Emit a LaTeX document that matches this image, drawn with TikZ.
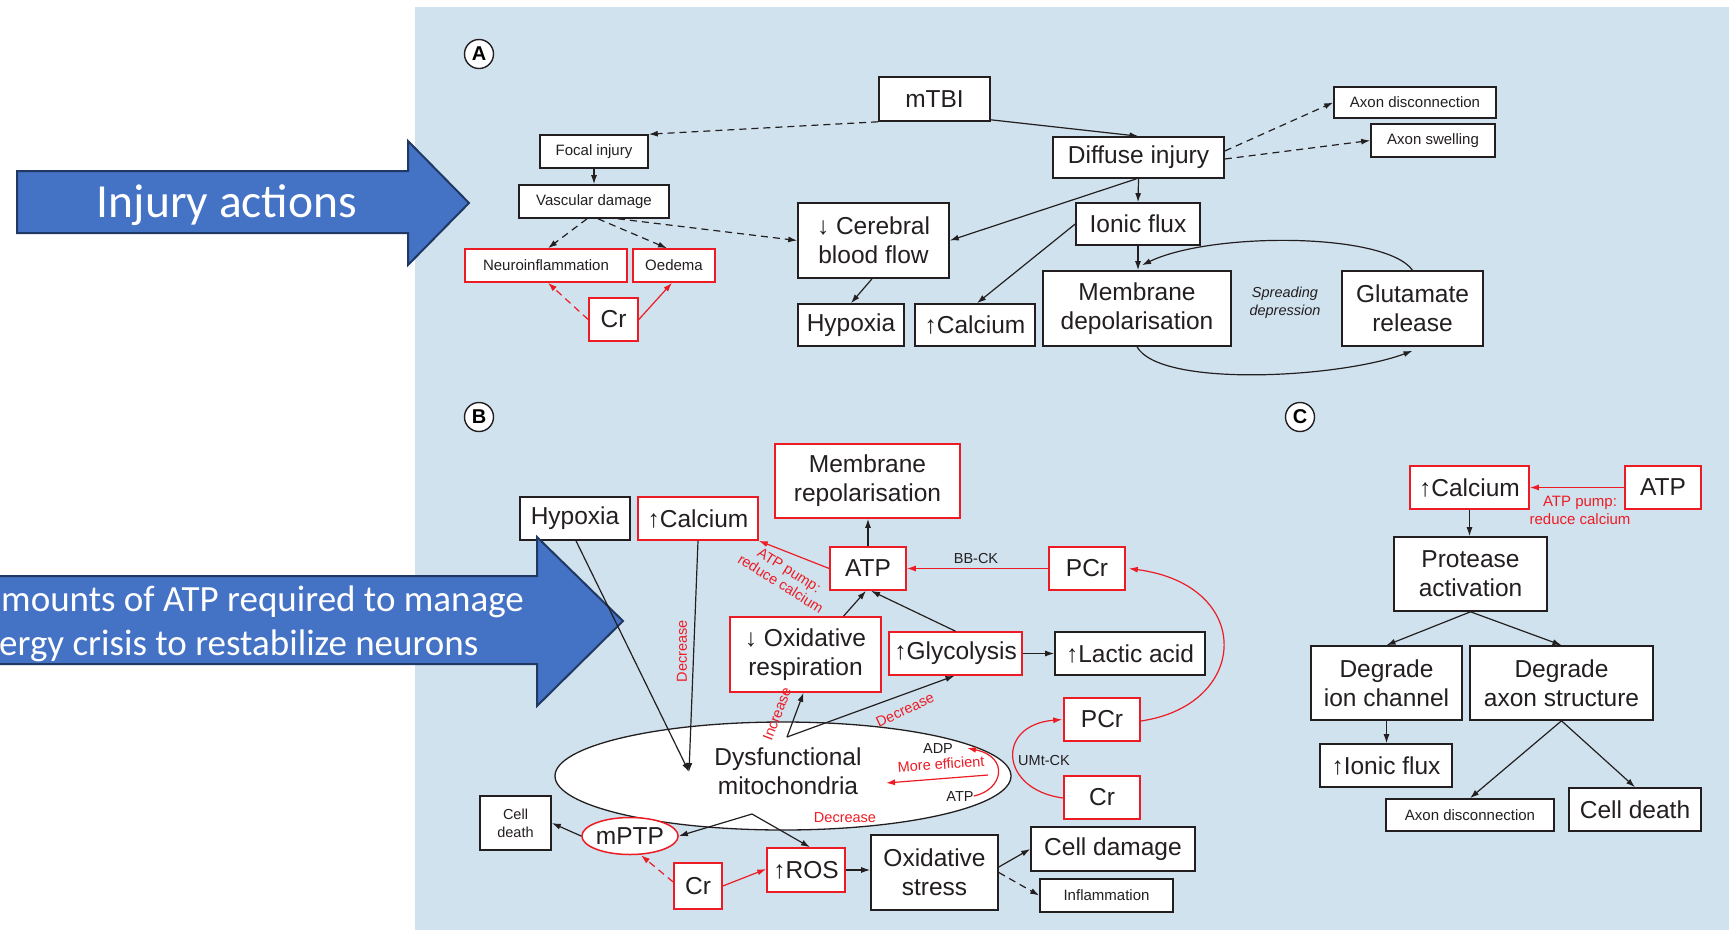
\documentclass[tikz,border=0pt]{standalone}
\usepackage{fontspec}
\setmainfont{Liberation Sans}
\newfontfamily\calib{Carlito}
\usetikzlibrary{arrows.meta,shapes.geometric,calc}
\definecolor{bgblue}{RGB}{208,226,238}
\definecolor{arrblue}{RGB}{68,114,196}
\definecolor{arrdark}{RGB}{32,56,100}
\definecolor{myred}{RGB}{237,28,36}
\definecolor{ink}{RGB}{35,31,32}
\begin{document}
\begin{tikzpicture}[x=1pt,y=-1pt,
  bx/.style={draw=ink, line width=1.6pt, fill=white, inner sep=0pt, align=center, text=ink},
  rbx/.style={bx, draw=myred},
  sz/.style n args={2}{minimum width=#1pt, minimum height=#2pt},
  big/.style={font=\fontsize{24.5}{29}\selectfont},
  sml/.style={font=\fontsize{15}{18}\selectfont},
  tny/.style={font=\fontsize{14.5}{18}\selectfont},
  lbl/.style={inner sep=0pt, align=center, text=ink, font=\fontsize{14.5}{18}\selectfont},
  rlbl/.style={lbl, text=myred},
  con/.style={draw=ink, line width=1.2pt, -{Latex[length=9pt,width=6pt]}},
  dcon/.style={con, dash pattern=on 7pt off 5pt},
  rcon/.style={con, draw=myred},
  rdcon/.style={rcon, dash pattern=on 7pt off 5pt},
  pcirc/.style={circle, draw=ink, line width=1.4pt, fill=white, minimum size=29pt, inner sep=0pt, font=\bfseries\fontsize{20}{20}\selectfont},
]
\useasboundingbox (0,0) rectangle (1729,930);
\clip (0,0) rectangle (1729,930);
\fill[bgblue] (415,7) rectangle (1729,930);

% ---------------- Panel A ----------------
\node[pcirc] (pA) at (479,54) {A};
\node[bx,big,sz={111}{44}] (mtbi) at (934.5,99) {mTBI};
\node[bx,sml,sz={108}{33}] (focal) at (594,151.5) {Focal injury};
\node[bx,sml,sz={150}{33}] (vasc) at (594,201.5) {Vascular damage};
\node[rbx,sml,sz={162}{33}] (neuro) at (546,265.5) {Neuroinflammation};
\node[rbx,sml,sz={82}{33}] (oedema) at (674,265.5) {Oedema};
\node[rbx,big,sz={49}{43}] (crA) at (613.5,319.5) {Cr};
\node[bx,big,sz={151}{75}] (cbf) at (873.5,240.5) {↓ Cerebral\\blood flow};
\node[bx,big,sz={106}{42}] (hypA) at (851,325) {Hypoxia};
\node[bx,big,sz={120}{42}] (calA) at (975,325) {↑Calcium};
\node[bx,big,sz={171}{41}] (diffuse) at (1138.5,157.5) {Diffuse injury};
\node[bx,sml,sz={162}{31}] (axdis) at (1415,102.5) {Axon disconnection};
\node[bx,sml,sz={124}{33}] (axsw) at (1433,140.5) {Axon swelling};
\node[bx,big,sz={124}{42}] (ionic) at (1138,224) {Ionic flux};
\node[bx,big,sz={188}{75}] (memdep) at (1137,308.5) {Membrane\\depolarisation};
\node[bx,big,sz={141}{75}] (glut) at (1412.5,308.5) {Glutamate\\release};
\node[lbl,font=\itshape\fontsize{14.5}{18}\selectfont] (spread) at (1285,303) {Spreading\\depression};

\draw[dcon] (mtbi.south west) -- (focal.north east);
\draw[con] ([yshift=2pt]mtbi.south east) -- (diffuse.north);
\draw[dcon] ([yshift=6.5pt]diffuse.east) -- (axdis.west);
\draw[dcon] ([yshift=-1.5pt]diffuse.east) -- (axsw.west);
\draw[con] (diffuse.south) -- (ionic.north);
\draw[con] ([xshift=-2pt]diffuse.south) -- (cbf.east);
\draw[con] (ionic.west) -- ([xshift=2pt]calA.north);
\draw[con] (ionic.south) -- (ionic.south |- memdep.north);
\draw[con] (glut.north) .. controls (1385,232) and (1210,232) .. ([xshift=5pt,yshift=5pt]memdep.north);
\draw[con] (memdep.south) .. controls (1160,388) and (1340,378) .. ([yshift=-4pt]glut.south);
\draw[con] ([xshift=-1.5pt]cbf.south) -- (hypA.north);
\draw[con] (focal.south) -- (vasc.north);
\draw[dcon] ([xshift=-7pt]vasc.south) -- ([xshift=2pt]neuro.north);
\draw[dcon] ([xshift=4pt]vasc.south) -- ([xshift=-7pt]oedema.north);
\draw[dcon] ([xshift=24pt]vasc.south) -- (cbf.west);
\draw[rdcon] (crA.west) -- ([xshift=2pt]neuro.south);
\draw[rcon] (crA.east) -- ([xshift=-2pt]oedema.south);

% ---------------- Panel B ----------------
\node[pcirc] (pB) at (479,417) {B};
\node[ellipse, draw=ink, line width=1.3pt, fill=white, minimum width=456pt, minimum height=108pt, inner sep=0pt] (mito) at (783,776) {};
\node[inner sep=0pt, align=center, text=ink, big] (mitotxt) at (788,771) {Dysfunctional\\mitochondria};
\node[bx,big,sz={110}{43}] (hypB) at (575,518.5) {Hypoxia};
\node[rbx,big,sz={120}{43}] (calB) at (698,518.5) {↑Calcium};
\node[rbx,big,sz={185}{74}] (memrep) at (867.5,481) {Membrane\\repolarisation};
\node[rbx,big,sz={76}{43}] (atpB) at (868,568.5) {ATP};
\node[rbx,big,sz={76}{43}] (pcr1) at (1087,568.5) {PCr};
\node[rbx,big,sz={151}{75}] (oxresp) at (805.5,654.5) {↓ Oxidative\\respiration};
\node[rbx,big,sz={133}{43}] (glyc) at (955.5,653.5) {↑Glycolysis};
\node[bx,big,sz={150}{43}] (lactic) at (1130,653.5) {↑Lactic acid};
\node[rbx,big,sz={76}{43}] (pcr2) at (1102,719.5) {PCr};
\node[rbx,big,sz={76}{43}] (crB) at (1102,797.5) {Cr};
\node[bx,tny,sz={71}{54}] (cdB) at (515.5,823) {Cell\\death};
\node[ellipse, draw=myred, line width=1.5pt, fill=white, minimum width=86pt, minimum height=37pt, inner sep=0pt, text=ink, big] (mptp) at (630,836) {mPTP};
\node[rbx,big,sz={48}{46}] (crC) at (698,886) {Cr};
\node[rbx,big,sz={78}{44}] (ros) at (806,870) {↑ROS};
\node[bx,big,sz={127}{75}] (oxst) at (934.5,872.5) {Oxidative\\stress};
\node[bx,big,sz={164}{44}] (celldam) at (1113,849) {Cell damage};
\node[bx,sml,sz={133}{33}] (inflam) at (1106.5,895.5) {Inflammation};

\coordinate (mitoin) at (689,772);
\coordinate (mitotop) at (787,737);
\coordinate (mitobot) at (752,814);
\coordinate (meA) at (988,775);
\coordinate (meB) at (886,783);

\node[lbl] (adp) at (938,748) {ADP};
\node[lbl] (atpin) at (960,796) {ATP};
\node[rlbl,rotate=4] (moreeff) at (941,764) {More efficient};
\node[lbl] (bbck) at (976,558) {BB-CK};
\node[lbl] (umtck) at (1044,760) {UMt-CK};
\node[rlbl,rotate=90] (decA) at (682,651) {Decrease};
\node[rlbl,rotate=69] (incr) at (777,714) {Increase};
\node[rlbl,rotate=25] (decB) at (905,710) {Decrease};
\node[rlbl] (decC) at (845,818) {Decrease};
\node[rlbl,rotate=-32,font=\fontsize{14.5}{16}\selectfont] (pumpB) at (785,577) {ATP pump:\\reduce calcium};

\draw[con] (calB.south) -- (mitoin);
\draw[con] (mitotop) -- ([xshift=-2pt]oxresp.south);
\draw[con] (mitotop) -- ([xshift=-1pt]glyc.south);
\draw[con] ([xshift=38pt]oxresp.north) -- ([xshift=-2pt]atpB.south);
\draw[con] (glyc.north) -- ([xshift=3pt]atpB.south);
\draw[con] (atpB.north) -- (atpB.north |- memrep.south);
\draw[rcon] (atpB.west) -- (calB.south east);
\draw[rcon] (pcr1.west) -- (atpB.east);
\draw[con] (glyc.east) -- (lactic.west);
\draw[rcon] ([yshift=-1.5pt]pcr2.east) .. controls (1250,705) and (1255,585) .. ([xshift=3pt]pcr1.east);
\draw[rcon] ([yshift=-0.5pt]crB.west) .. controls (1000,790) and (995,725) .. ([xshift=-1pt]pcr2.west);
\draw[rcon] (atpin.east) .. controls (1003,790) and (1010,757) .. ([xshift=14pt]adp.east);
\draw[rcon] (meA) -- (meB);
\draw[con] (mitobot) -- (mptp.east);
\draw[con] (mitobot) -- ([xshift=4pt]ros.north);
\draw[con] (mptp.west) -- (cdB.east);
\draw[rdcon] ([yshift=4pt]crC.west) -- ([xshift=11pt]mptp.south);
\draw[rcon] (crC.east) -- ([yshift=1pt]ros.west);
\draw[con] (ros.east) -- (ros.east -| oxst.west);
\draw[con] ([yshift=5.5pt]oxst.east) -- (celldam.west);
\draw[dcon] (oxst.east) -- (inflam.west);

% ---------------- Panel C ----------------
\node[pcirc] (pC) at (1300,417) {C};
\node[rbx,big,sz={119}{43}] (calC) at (1469.5,487.5) {↑Calcium};
\node[rbx,big,sz={76}{43}] (atpC) at (1663,487.5) {ATP};
\node[rlbl,font=\fontsize{15}{18}\selectfont] (pumpC) at (1580,510) {ATP pump:\\reduce calcium};
\node[bx,big,sz={153}{74}] (prot) at (1470.5,574) {Protease\\activation};
\node[bx,big,sz={151}{74}] (degion) at (1386.5,683) {Degrade\\ion channel};
\node[bx,big,sz={183}{74}] (degax) at (1561.5,683) {Degrade\\axon structure};
\node[bx,big,sz={132}{43}] (ionicC) at (1386,765.5) {↑Ionic flux};
\node[bx,sml,sz={168}{32}] (axdisC) at (1470,815) {Axon disconnection};
\node[bx,big,sz={132}{43}] (cdC) at (1635,809.5) {Cell death};

\draw[rcon] (atpC.west) -- (calC.east);
\draw[con] (calC.south) -- (calC.south |- prot.north);
\draw[con] (prot.south) -- (degion.north);
\draw[con] (prot.south) -- (degax.north);
\draw[con] (degion.south) -- (degion.south |- ionicC.north);
\draw[con] (degax.south) -- (axdisC.north);
\draw[con] (degax.south) -- (cdC.north);

% ---------------- Blue arrows ----------------
\draw[fill=arrblue, draw=arrdark, line width=2pt, line join=miter]
  (17,171) -- (408,171) -- (408,141) -- (469,203) -- (408,265) -- (408,233) -- (17,233) -- cycle;
\node[text=white, inner sep=0pt, font=\calib\fontsize{47.5}{50}\selectfont] (inj) at (227,205) {Injury actions};
\draw[fill=arrblue, draw=arrdark, line width=2pt, line join=miter]
  (-10,576) -- (537,576) -- (537,537) -- (623,621) -- (537,706) -- (537,664) -- (-10,664) -- cycle;
\node[text=white, inner sep=0pt, anchor=west, font=\calib\fontsize{37}{40}\selectfont] (atpl1) at (1,602) {mounts of ATP required to manage};
\node[text=white, inner sep=0pt, anchor=west, font=\calib\fontsize{37}{40}\selectfont] (atpl2) at (-1,646) {ergy crisis to restabilize neurons};

% connector drawn over the blue arrow, as in the reference
\draw[con] ([xshift=1pt]hypB.south) -- (mitoin);
\end{tikzpicture}
\end{document}
